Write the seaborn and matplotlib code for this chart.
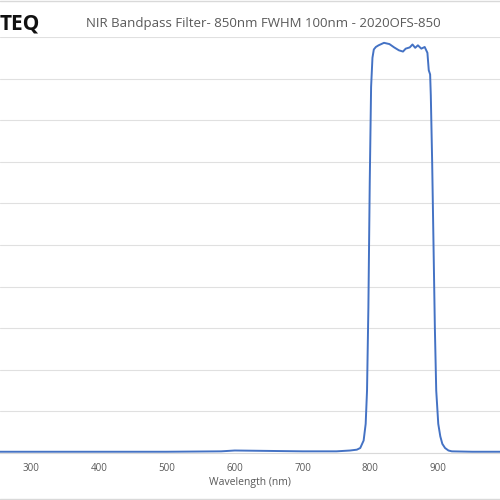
import matplotlib
matplotlib.use("Agg")
import matplotlib.pyplot as plt
import seaborn as sns
import pandas as pd
from matplotlib.lines import Line2D

wavelength = [250, 300, 400, 500, 580, 600, 650, 700, 750, 770, 780, 785, 790, 793, 795,
              797, 799, 801, 803, 805, 808, 812, 820, 828, 835, 842, 848, 852, 858,
              862, 866, 870, 875, 880, 884, 886, 888, 889, 891, 893, 895, 897, 900,
              903, 906, 910, 915, 920, 950, 1000]
transmission = [0.3, 0.3, 0.3, 0.3, 0.4, 0.6, 0.5, 0.4, 0.4, 0.6, 0.8, 1.2, 3, 7, 15,
                35, 65, 88, 95, 97, 97.6, 98, 98.6, 98.3, 97.5, 96.8, 96.5, 97.2, 97.5,
                98.2, 97.4, 98, 97.2, 97.6, 96.2, 92, 91, 86, 70, 50, 30, 15, 7,
                4, 2.2, 1.2, 0.6, 0.4, 0.3, 0.3]

df = pd.DataFrame({"wavelength": wavelength, "transmission": transmission})

sns.set_style("white")
plt.rcParams["font.family"] = ["Open Sans", "DejaVu Sans"]
grey = "#595959"

fig = plt.figure(figsize=(5, 5), dpi=100)
ax = fig.add_axes([0, 0.094, 1, 0.832])
sns.lineplot(df, x="wavelength", y="transmission", ax=ax, color="#4472C4", linewidth=1.4)
ax.set_xlim(254, 991)
ax.set_ylim(0, 100)
ax.set_yticks(range(0, 101, 10))
ax.set_yticklabels([])
ax.tick_params(axis="y", length=0)
ax.set_xticks(range(300, 1000, 100))
ax.tick_params(axis="x", length=0, labelsize=7, colors=grey, pad=7)
ax.grid(axis="y", color="#e0e0e0", linewidth=0.8)
for s in ["top", "left", "right"]:
    ax.spines[s].set_visible(False)
ax.spines["bottom"].set_color("#d9d9d9")
ax.set_xlabel("Wavelength (nm)", fontsize=7.5, color=grey, labelpad=2)
ax.set_ylabel("")

fig.text(0.0, 0.952, "TEQ", fontsize=15, fontweight="bold", color="#111111", va="center")
fig.text(0.526, 0.952, "NIR Bandpass Filter- 850nm FWHM 100nm - 2020OFS-850",
         fontsize=9.5, color=grey, ha="center", va="center")
fig.add_artist(Line2D([0, 1], [0.998, 0.998], color="#d9d9d9", linewidth=1))
fig.add_artist(Line2D([0, 1], [0.003, 0.003], color="#d9d9d9", linewidth=1))

fig.savefig("out.png", dpi=100)
